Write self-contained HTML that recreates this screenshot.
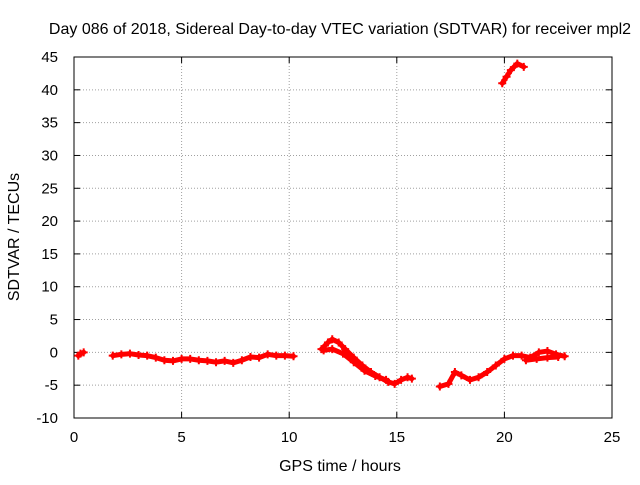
<!DOCTYPE html>
<html><head><meta charset="utf-8"><style>
body{margin:0;background:#fff}
text{font-family:"Liberation Sans",sans-serif;font-size:16px;fill:#000}
text.tick{font-size:15px}
</style></head><body>
<svg width="640" height="480" xmlns="http://www.w3.org/2000/svg">
<rect width="640" height="480" fill="#fff"/>
<text x="340" y="34" text-anchor="middle">Day 086 of 2018, Sidereal Day-to-day VTEC variation (SDTVAR) for receiver mpl2</text>
<g id="grid"></g><g id="axes"></g><g id="series"></g>
<text x="340" y="471" text-anchor="middle">GPS time / hours</text>
<text transform="translate(19,237) rotate(-90)" text-anchor="middle">SDTVAR / TECUs</text>
</svg>
<script>
const xTicks=[0,5,10,15,20,25];
const yTicks=[-10,-5,0,5,10,15,20,25,30,35,40,45];
const seg1=[[0.2,-0.5],[0.3,-0.2],[0.45,0]];
const seg2=[[1.8,-0.5],[2.2,-0.3],[2.6,-0.2],[3,-0.4],[3.4,-0.5],[3.8,-0.8],[4.2,-1.2],[4.6,-1.3],[5,-1],[5.4,-1],[5.8,-1.2],[6.2,-1.3],[6.6,-1.5],[7,-1.3],[7.4,-1.6],[7.8,-1.2],[8.2,-0.7],[8.6,-0.8],[9,-0.3],[9.4,-0.5],[9.8,-0.5],[10.2,-0.6]];
const seg3=[[11.5,0.5],[11.8,1.5],[12,2],[12.3,1.5],[12.6,0.5],[13,-0.8],[13.4,-2],[13.8,-3],[14.2,-3.8],[14.6,-4.5],[14.9,-4.8],[15.2,-4.2],[15.5,-3.8],[15.7,-4]];
const seg3b=[[11.6,0.3],[12,0.5],[12.5,-0.2],[13,-1.5],[13.5,-2.8],[14,-3.6],[14.5,-4.2]];
const seg4=[[17,-5.2],[17.4,-4.8],[17.7,-3],[18,-3.5],[18.4,-4.2],[18.8,-3.8],[19.2,-3],[19.6,-2],[20,-1],[20.4,-0.5],[20.8,-0.5],[21.2,-0.8],[21.6,0],[22,0.2],[22.4,-0.3],[22.8,-0.6]];
const seg4b=[[21,-1.2],[21.5,-1],[22,-0.8],[22.5,-0.7]];
const seg5=[[19.9,41],[20.1,42],[20.3,43],[20.6,44],[20.9,43.5]];
const X0=74,X1=612,Y0=418,Y1=57;
const sx=v=>X0+(v-0)/(25-0)*(X1-X0);
const sy=v=>Y0-(v+10)/(55)*(Y0-Y1);
const NS="http://www.w3.org/2000/svg";
function mk(t,a,p){const e=document.createElementNS(NS,t);for(const k in a)e.setAttribute(k,a[k]);p.appendChild(e);return e;}
const grid=document.getElementById('grid'),axes=document.getElementById('axes'),ser=document.getElementById('series');
xTicks.forEach(v=>{const x=sx(v);
 if(v>0&&v<25){const l=mk('line',{x1:x,y1:Y1,x2:x,y2:Y0,stroke:'#a0a0a0','stroke-dasharray':'1,2'},grid);}
 mk('line',{x1:x,y1:Y0,x2:x,y2:Y0-6,stroke:'#000'},axes);mk('line',{x1:x,y1:Y1,x2:x,y2:Y1+6,stroke:'#000'},axes);
 const t=mk('text',{x:x,y:Y0+24,'text-anchor':'middle','class':'tick'},axes);t.textContent=v;
 });
yTicks.forEach(v=>{const y=sy(v);
 if(v>-10&&v<45){const l=mk('line',{x1:X0,y1:y,x2:X1,y2:y,stroke:'#a0a0a0','stroke-dasharray':'1,2'},grid);}
 mk('line',{x1:X0,y1:y,x2:X0+6,y2:y,stroke:'#000'},axes);mk('line',{x1:X1,y1:y,x2:X1-6,y2:y,stroke:'#000'},axes);
 const t=mk('text',{x:X0-16,y:y+5,'text-anchor':'end','class':'tick'},axes);t.textContent=v;
 });
const fr=mk('rect',{x:X0,y:Y1,width:X1-X0,height:Y0-Y1,fill:'none',stroke:'#000'},axes);

[seg1,seg2,seg3,seg3b,seg4,seg4b,seg5].forEach(s=>{
 const p=mk('polyline',{points:s.map(d=>sx(d[0])+','+sy(d[1])).join(' '),fill:'none',stroke:'#f00','stroke-width':5,'stroke-linejoin':'round','stroke-linecap':'round'},ser);
 
 s.forEach(d=>{const x=sx(d[0]),y=sy(d[1]);
  const m=mk('path',{d:`M${x-4},${y}H${x+4}M${x},${y-4}V${y+4}`,stroke:'#f00','stroke-width':2},ser);
  });
});
</script>
</body></html>
